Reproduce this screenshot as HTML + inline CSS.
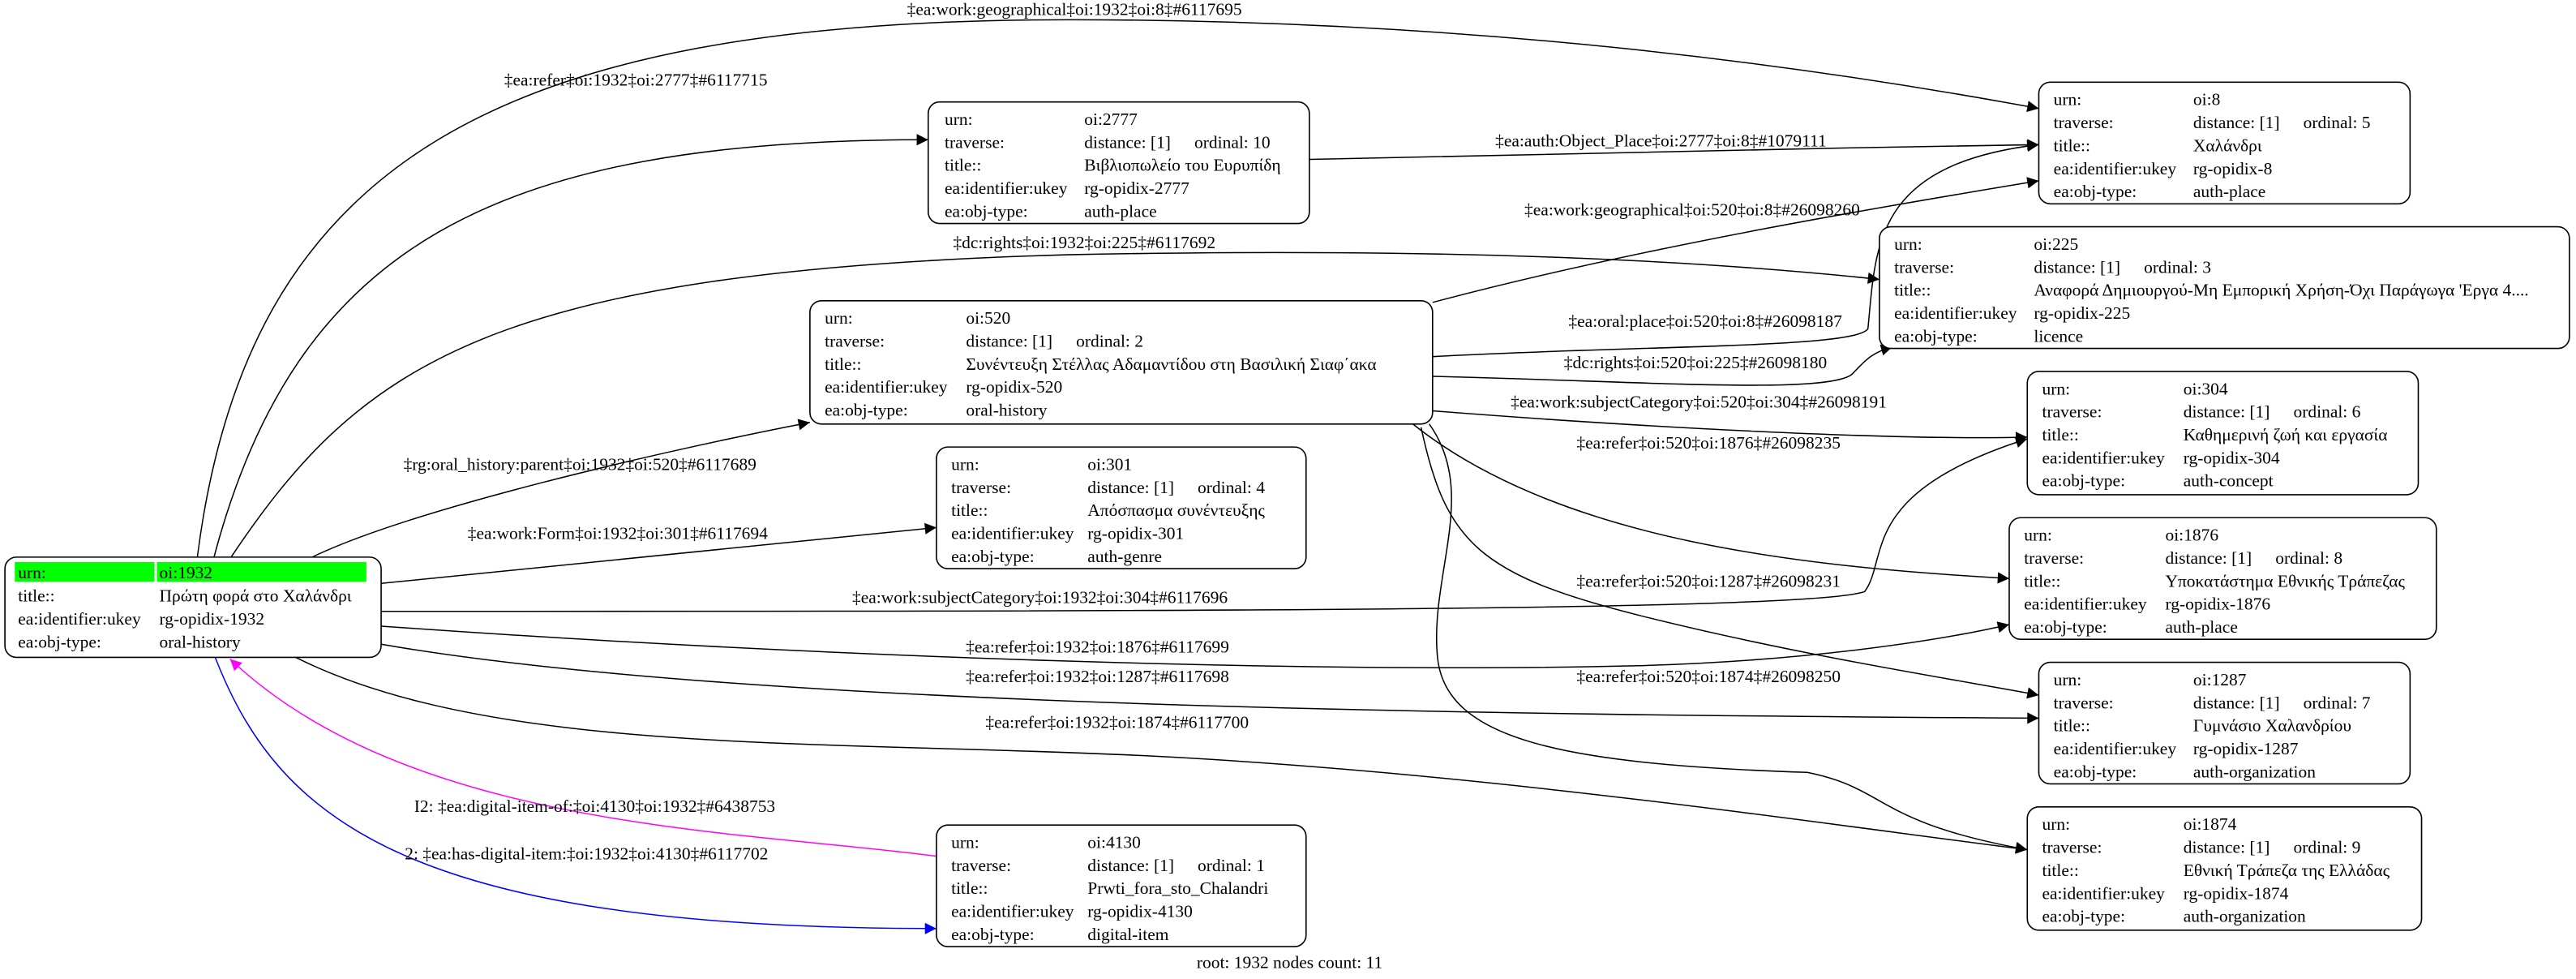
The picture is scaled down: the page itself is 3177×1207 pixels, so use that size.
<!DOCTYPE html>
<html><head><meta charset="utf-8"><style>
html,body{margin:0;padding:0;background:#fff;}
svg{display:block;font-family:"Liberation Serif","Times New Roman",Times,"DejaVu Serif",serif;}
svg text{font-family:"Liberation Serif","Times New Roman",Times,"DejaVu Serif",serif;font-size:10.6px;fill:#000;}
.b{fill:#fff;stroke:#000;stroke-width:0.8;}
.e{fill:none;stroke:#000;stroke-width:0.75;}
</style></head><body>
<svg width="3177" height="1207" viewBox="0 0 1568 595.7" xmlns="http://www.w3.org/2000/svg" font-family="Liberation Serif, Times New Roman, serif">
<defs>
<marker id="a" viewBox="0 0 10 10" refX="10" refY="5" markerWidth="9" markerHeight="7" markerUnits="userSpaceOnUse" orient="auto"><path d="M0,0L10,5L0,10z" fill="#000"/></marker>
<marker id="am" viewBox="0 0 10 10" refX="10" refY="5" markerWidth="9" markerHeight="7" markerUnits="userSpaceOnUse" orient="auto"><path d="M0,0L10,5L0,10z" fill="#f0f"/></marker>
<marker id="ab" viewBox="0 0 10 10" refX="10" refY="5" markerWidth="9" markerHeight="7" markerUnits="userSpaceOnUse" orient="auto"><path d="M0,0L10,5L0,10z" fill="#00f"/></marker>
</defs>

<path class="e" marker-end="url(#a)" d="M120,340 C150,100 300,12 650,12 C900,12 1100,40 1241,66"/>
<text x="654" y="9" text-anchor="middle">‡ea:work:geographical‡oi:1932‡oi:8‡#6117695</text>
<path class="e" marker-end="url(#a)" d="M130,340 C180,150 300,85 565,85"/>
<text x="387" y="52" text-anchor="middle">‡ea:refer‡oi:1932‡oi:2777‡#6117715</text>
<path class="e" marker-end="url(#a)" d="M140,340 C220,220 300,165 650,155 C900,150 1050,160 1144,170"/>
<text x="660" y="151" text-anchor="middle">‡dc:rights‡oi:1932‡oi:225‡#6117692</text>
<path class="e" marker-end="url(#a)" d="M190,339 C250,310 400,275 493,257"/>
<text x="353" y="286" text-anchor="middle">‡rg:oral_history:parent‡oi:1932‡oi:520‡#6117689</text>
<path class="e" marker-end="url(#a)" d="M232,355 L570,321"/>
<text x="376" y="328" text-anchor="middle">‡ea:work:Form‡oi:1932‡oi:301‡#6117694</text>
<path class="e" marker-end="url(#a)" d="M232,372 C700,372 1100,372 1135,360 C1150,340 1130,300 1234,267"/>
<text x="633" y="367" text-anchor="middle">‡ea:work:subjectCategory‡oi:1932‡oi:304‡#6117696</text>
<path class="e" marker-end="url(#a)" d="M232,381 C500,400 800,410 1000,405 C1100,402 1180,390 1223,380"/>
<text x="668" y="397" text-anchor="middle">‡ea:refer‡oi:1932‡oi:1876‡#6117699</text>
<path class="e" marker-end="url(#a)" d="M232,392 C450,430 900,435 1241,437"/>
<text x="668" y="415" text-anchor="middle">‡ea:refer‡oi:1932‡oi:1287‡#6117698</text>
<path class="e" marker-end="url(#a)" d="M180,400 C300,460 500,450 700,460 C900,470 1100,500 1234,517"/>
<text x="680" y="443" text-anchor="middle">‡ea:refer‡oi:1932‡oi:1874‡#6117700</text>
<path class="e" style="stroke:#f0f" marker-end="url(#am)" d="M570,521 C450,505 250,505 140,401"/>
<text x="362" y="494" text-anchor="middle">I2: ‡ea:digital-item-of:‡oi:4130‡oi:1932‡#6438753</text>
<path class="e" style="stroke:#00f" marker-end="url(#ab)" d="M131,400 C170,500 250,565 570,565"/>
<text x="357" y="523" text-anchor="middle">2: ‡ea:has-digital-item:‡oi:1932‡oi:4130‡#6117702</text>
<path class="e" marker-end="url(#a)" d="M797,97 C1000,93 1100,90 1241,88"/>
<text x="1011" y="89" text-anchor="middle">‡ea:auth:Object_Place‡oi:2777‡oi:8‡#1079111</text>
<path class="e" marker-end="url(#a)" d="M872,184 C1000,150 1150,125 1241,110"/>
<text x="1030" y="131" text-anchor="middle">‡ea:work:geographical‡oi:520‡oi:8‡#26098260</text>
<path class="e" marker-end="url(#a)" d="M872,217 C1000,210 1130,212 1137,200 C1142,150 1140,100 1241,88"/>
<text x="1038" y="199" text-anchor="middle">‡ea:oral:place‡oi:520‡oi:8‡#26098187</text>
<path class="e" marker-end="url(#a)" d="M872,229 C1000,232 1110,240 1127,228 C1135,220 1138,215 1152,211"/>
<text x="1032" y="224" text-anchor="middle">‡dc:rights‡oi:520‡oi:225‡#26098180</text>
<path class="e" marker-end="url(#a)" d="M872,250 C1000,260 1150,268 1234,266"/>
<text x="1034" y="248" text-anchor="middle">‡ea:work:subjectCategory‡oi:520‡oi:304‡#26098191</text>
<path class="e" marker-end="url(#a)" d="M860,258 C950,330 1100,345 1223,352"/>
<text x="1040" y="273" text-anchor="middle">‡ea:refer‡oi:520‡oi:1876‡#26098235</text>
<path class="e" marker-end="url(#a)" d="M865,260 C880,330 900,350 1000,375 C1100,400 1200,415 1241,423"/>
<text x="1040" y="357" text-anchor="middle">‡ea:refer‡oi:520‡oi:1287‡#26098231</text>
<path class="e" marker-end="url(#a)" d="M870,258 C900,300 870,350 875,400 C880,450 950,465 1100,470 C1150,480 1140,500 1234,517"/>
<text x="1040" y="415" text-anchor="middle">‡ea:refer‡oi:520‡oi:1874‡#26098250</text>

<rect class="b" x="3" y="339" width="229" height="61" rx="7"/>
<rect x="9" y="342" width="85" height="12" fill="#0f0"/>
<rect x="95.5" y="342" width="127.5" height="12" fill="#0f0"/>
<text x="11" y="352">urn:</text><text x="97" y="352">oi:1932</text>
<text x="11" y="366">title::</text><text x="97" y="366">Πρώτη φορά στο Χαλάνδρι</text>
<text x="11" y="380">ea:identifier:ukey</text><text x="97" y="380">rg-opidix-1932</text>
<text x="11" y="394">ea:obj-type:</text><text x="97" y="394">oral-history</text>

<g>
<rect class="b" x="565" y="62" width="232" height="74" rx="7"/>
<text x="575" y="76">urn:</text><text x="660" y="76">oi:2777</text>
<text x="575" y="90">traverse:</text><text x="660" y="90">distance: [1]</text><text x="727" y="90">ordinal: 10</text>
<text x="575" y="104">title::</text><text x="660" y="104">Βιβλιοπωλείο του Ευρυπίδη</text>
<text x="575" y="118">ea:identifier:ukey</text><text x="660" y="118">rg-opidix-2777</text>
<text x="575" y="132">ea:obj-type:</text><text x="660" y="132">auth-place</text>
</g>
<g>
<rect class="b" x="1241" y="50" width="226" height="74" rx="7"/>
<text x="1250" y="64">urn:</text><text x="1335" y="64">oi:8</text>
<text x="1250" y="78">traverse:</text><text x="1335" y="78">distance: [1]</text><text x="1402" y="78">ordinal: 5</text>
<text x="1250" y="92">title::</text><text x="1335" y="92">Χαλάνδρι</text>
<text x="1250" y="106">ea:identifier:ukey</text><text x="1335" y="106">rg-opidix-8</text>
<text x="1250" y="120">ea:obj-type:</text><text x="1335" y="120">auth-place</text>
</g>
<g>
<rect class="b" x="1144" y="138" width="420" height="74" rx="7"/>
<text x="1153" y="152">urn:</text><text x="1238" y="152">oi:225</text>
<text x="1153" y="166">traverse:</text><text x="1238" y="166">distance: [1]</text><text x="1305" y="166">ordinal: 3</text>
<text x="1153" y="180">title::</text><text x="1238" y="180">Αναφορά Δημιουργού-Μη Εμπορική Χρήση-Όχι Παράγωγα 'Εργα 4....</text>
<text x="1153" y="194">ea:identifier:ukey</text><text x="1238" y="194">rg-opidix-225</text>
<text x="1153" y="208">ea:obj-type:</text><text x="1238" y="208">licence</text>
</g>
<g>
<rect class="b" x="493" y="183" width="379" height="75" rx="7"/>
<text x="502" y="197">urn:</text><text x="588" y="197">oi:520</text>
<text x="502" y="211">traverse:</text><text x="588" y="211">distance: [1]</text><text x="655" y="211">ordinal: 2</text>
<text x="502" y="225">title::</text><text x="588" y="225">Συνέντευξη Στέλλας Αδαμαντίδου στη Βασιλική Σιαφ΄ακα</text>
<text x="502" y="239">ea:identifier:ukey</text><text x="588" y="239">rg-opidix-520</text>
<text x="502" y="253">ea:obj-type:</text><text x="588" y="253">oral-history</text>
</g>
<g>
<rect class="b" x="570" y="272" width="225" height="74" rx="7"/>
<text x="579" y="286">urn:</text><text x="662" y="286">oi:301</text>
<text x="579" y="300">traverse:</text><text x="662" y="300">distance: [1]</text><text x="729" y="300">ordinal: 4</text>
<text x="579" y="314">title::</text><text x="662" y="314">Απόσπασμα συνέντευξης</text>
<text x="579" y="328">ea:identifier:ukey</text><text x="662" y="328">rg-opidix-301</text>
<text x="579" y="342">ea:obj-type:</text><text x="662" y="342">auth-genre</text>
</g>
<g>
<rect class="b" x="1234" y="226" width="238" height="75" rx="7"/>
<text x="1243" y="240">urn:</text><text x="1329" y="240">oi:304</text>
<text x="1243" y="254">traverse:</text><text x="1329" y="254">distance: [1]</text><text x="1396" y="254">ordinal: 6</text>
<text x="1243" y="268">title::</text><text x="1329" y="268">Καθημερινή ζωή και εργασία</text>
<text x="1243" y="282">ea:identifier:ukey</text><text x="1329" y="282">rg-opidix-304</text>
<text x="1243" y="296">ea:obj-type:</text><text x="1329" y="296">auth-concept</text>
</g>
<g>
<rect class="b" x="1223" y="315" width="260" height="74" rx="7"/>
<text x="1232" y="329">urn:</text><text x="1318" y="329">oi:1876</text>
<text x="1232" y="343">traverse:</text><text x="1318" y="343">distance: [1]</text><text x="1385" y="343">ordinal: 8</text>
<text x="1232" y="357">title::</text><text x="1318" y="357">Υποκατάστημα Εθνικής Τράπεζας</text>
<text x="1232" y="371">ea:identifier:ukey</text><text x="1318" y="371">rg-opidix-1876</text>
<text x="1232" y="385">ea:obj-type:</text><text x="1318" y="385">auth-place</text>
</g>
<g>
<rect class="b" x="1241" y="403" width="226" height="74" rx="7"/>
<text x="1250" y="417">urn:</text><text x="1335" y="417">oi:1287</text>
<text x="1250" y="431">traverse:</text><text x="1335" y="431">distance: [1]</text><text x="1402" y="431">ordinal: 7</text>
<text x="1250" y="445">title::</text><text x="1335" y="445">Γυμνάσιο Χαλανδρίου</text>
<text x="1250" y="459">ea:identifier:ukey</text><text x="1335" y="459">rg-opidix-1287</text>
<text x="1250" y="473">ea:obj-type:</text><text x="1335" y="473">auth-organization</text>
</g>
<g>
<rect class="b" x="1234" y="491" width="240" height="75" rx="7"/>
<text x="1243" y="505">urn:</text><text x="1329" y="505">oi:1874</text>
<text x="1243" y="519">traverse:</text><text x="1329" y="519">distance: [1]</text><text x="1396" y="519">ordinal: 9</text>
<text x="1243" y="533">title::</text><text x="1329" y="533">Εθνική Τράπεζα της Ελλάδας</text>
<text x="1243" y="547">ea:identifier:ukey</text><text x="1329" y="547">rg-opidix-1874</text>
<text x="1243" y="561">ea:obj-type:</text><text x="1329" y="561">auth-organization</text>
</g>
<g>
<rect class="b" x="570" y="502" width="225" height="74" rx="7"/>
<text x="579" y="516">urn:</text><text x="662" y="516">oi:4130</text>
<text x="579" y="530">traverse:</text><text x="662" y="530">distance: [1]</text><text x="729" y="530">ordinal: 1</text>
<text x="579" y="544">title::</text><text x="662" y="544">Prwti_fora_sto_Chalandri</text>
<text x="579" y="558">ea:identifier:ukey</text><text x="662" y="558">rg-opidix-4130</text>
<text x="579" y="572">ea:obj-type:</text><text x="662" y="572">digital-item</text>
</g>

<text x="785" y="589" text-anchor="middle">root: 1932 nodes count: 11</text>
</svg>
</body></html>
